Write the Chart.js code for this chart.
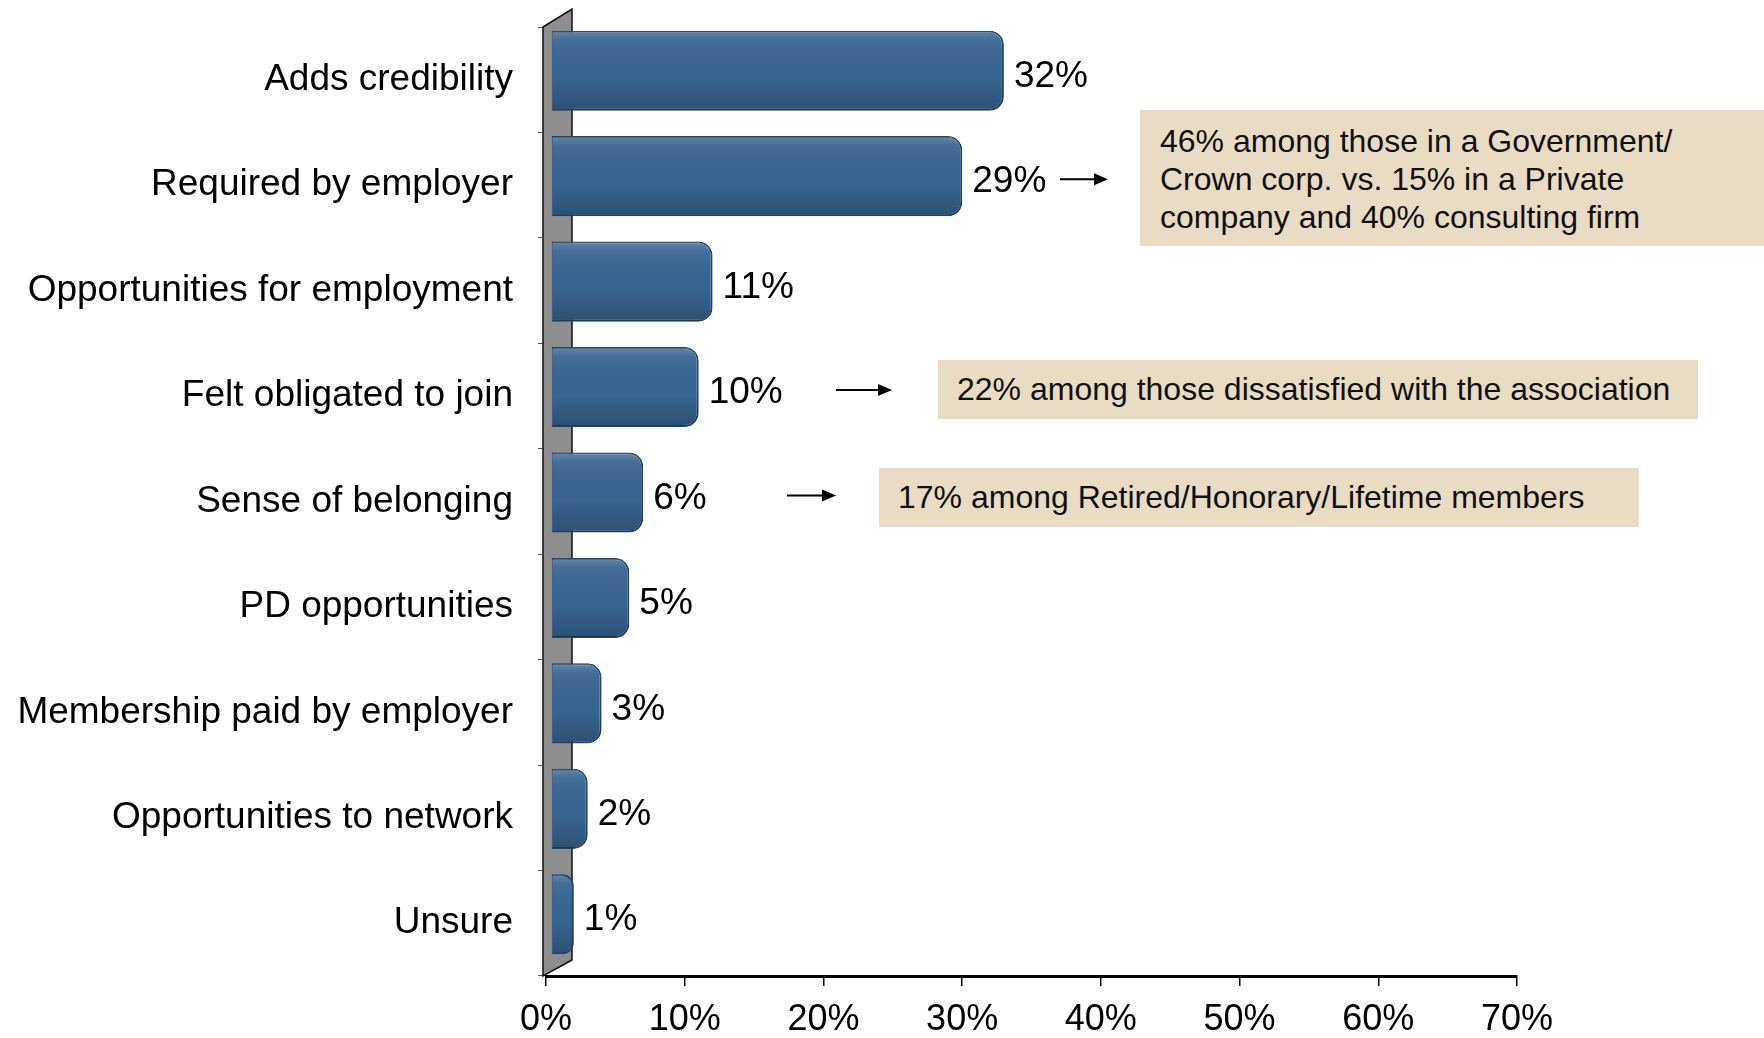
<!DOCTYPE html>
<html>
<head>
<meta charset="utf-8">
<script src="https://cdn.jsdelivr.net/npm/chart.js@4.4.1/dist/chart.umd.min.js"></script>
<style>
    html, body { margin: 0; padding: 0; background: #fff; }
    #wrap { position: relative; width: 1764px; height: 1038px; overflow: hidden; }
    canvas { position: absolute; left: 0; top: 0; }
    .nota {
        position: absolute; background: #e9dcc4; color: #111;
        font-family: "Liberation Sans", Arial, sans-serif; font-size: 32px; line-height: 38px;
        box-sizing: border-box; white-space: nowrap;
    }
</style>
</head>
<body>
<div id="wrap">
    <canvas id="grafico" width="1764" height="1038"></canvas>
    <div class="nota" style="left:1140px;top:110px;width:624px;height:136px;padding:12px 0 0 20px;">46% among those in a Government/<br>Crown corp. vs. 15% in a Private<br>company and 40% consulting firm</div>
    <div class="nota" style="left:938px;top:360px;width:760px;height:59px;padding:10px 0 0 19px;">22% among those dissatisfied with the association</div>
    <div class="nota" style="left:879px;top:468px;width:760px;height:59px;padding:10px 0 0 19px;">17% among Retired/Honorary/Lifetime members</div>
</div>
<script>
// Datos del gráfico
const categorias = [
    "Adds credibility",
    "Required by employer",
    "Opportunities for employment",
    "Felt obligated to join",
    "Sense of belonging",
    "PD opportunities",
    "Membership paid by employer",
    "Opportunities to network",
    "Unsure"
];
const valores = [32, 29, 11, 10, 6, 5, 3, 2, 1];
const ticksX = [0, 10, 20, 30, 40, 50, 60, 70];

// Flechas hacia las notas (índice de categoría, x inicio, x fin)
const flechas = [
    { cat: 1, x0: 1060, x1: 1108 },
    { cat: 3, x0: 836, x1: 892 },
    { cat: 4, x0: 787, x1: 836 }
];

const FUENTE = "'Liberation Sans', Arial, sans-serif";
const PROF_X = 14, PROF_Y = -9; // desplazamiento "3D" de las barras

const pared3D = {
    id: 'pared3D',
    beforeDatasetsDraw(chart) {
        const { ctx, chartArea: a } = chart;
        const L = a.left - 3;
        ctx.save();
        ctx.beginPath();
        ctx.moveTo(L, a.top);
        ctx.lineTo(L + 29, a.top - 18);
        ctx.lineTo(L + 29, a.bottom - 16);
        ctx.lineTo(L, a.bottom);
        ctx.closePath();
        ctx.fillStyle = '#8e8e8e';
        ctx.fill();
        ctx.strokeStyle = '#111';
        ctx.lineWidth = 1.5;
        ctx.stroke();
        ctx.restore();
        ctx.save();
        ctx.translate(PROF_X, PROF_Y);
    },
    afterDatasetsDraw(chart) {
        const { ctx } = chart;
        const meta = chart.getDatasetMeta(0);
        // brillo y sombra sobre cada barra
        meta.data.forEach(el => {
            const { x, y, base, height } = el.getProps(['x', 'y', 'base', 'height']);
            const top = y - height / 2;
            const g = ctx.createLinearGradient(0, top, 0, top + height);
            g.addColorStop(0, 'rgba(255,255,255,0.22)');
            g.addColorStop(0.12, 'rgba(255,255,255,0.06)');
            g.addColorStop(0.6, 'rgba(0,0,0,0)');
            g.addColorStop(1, 'rgba(0,0,0,0.22)');
            ctx.fillStyle = g;
            ctx.beginPath();
            ctx.roundRect(base + 1, top + 1, x - base - 2, height - 2, [2, 13, 13, 2]);
            ctx.fill();
        });
        ctx.restore();
        ctx.save();
        ctx.font = `37px ${FUENTE}`;
        ctx.fillStyle = '#000';
        ctx.textBaseline = 'middle';
        ctx.textAlign = 'left';
        meta.data.forEach((el, i) => {
            ctx.fillText(valores[i] + '%', el.x + PROF_X + 10, el.y - 3);
        });
        // flechas
        ctx.strokeStyle = '#000';
        ctx.fillStyle = '#000';
        ctx.lineWidth = 2;
        flechas.forEach(f => {
            const y = meta.data[f.cat].y - 6;
            ctx.beginPath();
            ctx.moveTo(f.x0, y);
            ctx.lineTo(f.x1 - 12, y);
            ctx.stroke();
            ctx.beginPath();
            ctx.moveTo(f.x1, y);
            ctx.lineTo(f.x1 - 14, y - 6);
            ctx.lineTo(f.x1 - 14, y + 6);
            ctx.closePath();
            ctx.fill();
        });
        ctx.restore();
    }
};

new Chart(document.getElementById('grafico'), {
    type: 'bar',
    data: {
        labels: categorias,
        datasets: [{
            data: valores,
            base: -0.6,
            clip: false,
            backgroundColor: '#386591',
            borderColor: '#22456a',
            borderWidth: 2,
            borderSkipped: 'start',
            borderRadius: { topRight: 14, bottomRight: 14, topLeft: 3, bottomLeft: 3 },
            categoryPercentage: 1,
            barPercentage: 0.76
        }]
    },
    options: {
        indexAxis: 'y',
        responsive: false,
        animation: false,
        layout: { padding: { left: 0, right: 247, top: 27, bottom: 0 } },
        plugins: { legend: { display: false }, tooltip: { enabled: false } },
        scales: {
            x: {
                min: 0, max: 70,
                afterFit: s => { s.height = 62; },
                afterBuildTicks: s => { s.ticks = ticksX.map(v => ({ value: v })); },
                ticks: {
                    callback: v => v + '%',
                    font: { family: FUENTE, size: 36 },
                    color: '#000',
                    padding: 12,
                    maxRotation: 0
                },
                grid: { drawOnChartArea: false, color: '#000', tickLength: 10, lineWidth: 1.5 },
                border: { color: '#000', width: 3 }
            },
            y: {
                afterFit: s => { s.width = 546; s.paddingTop = 0; s.paddingBottom = 0; },
                ticks: {
                    font: { family: FUENTE, size: 37 },
                    color: '#000',
                    padding: 25
                },
                grid: { drawOnChartArea: false, color: '#555', tickLength: 8, offset: true },
                border: { display: false }
            }
        }
    },
    plugins: [pared3D]
});
</script>
</body>
</html>
